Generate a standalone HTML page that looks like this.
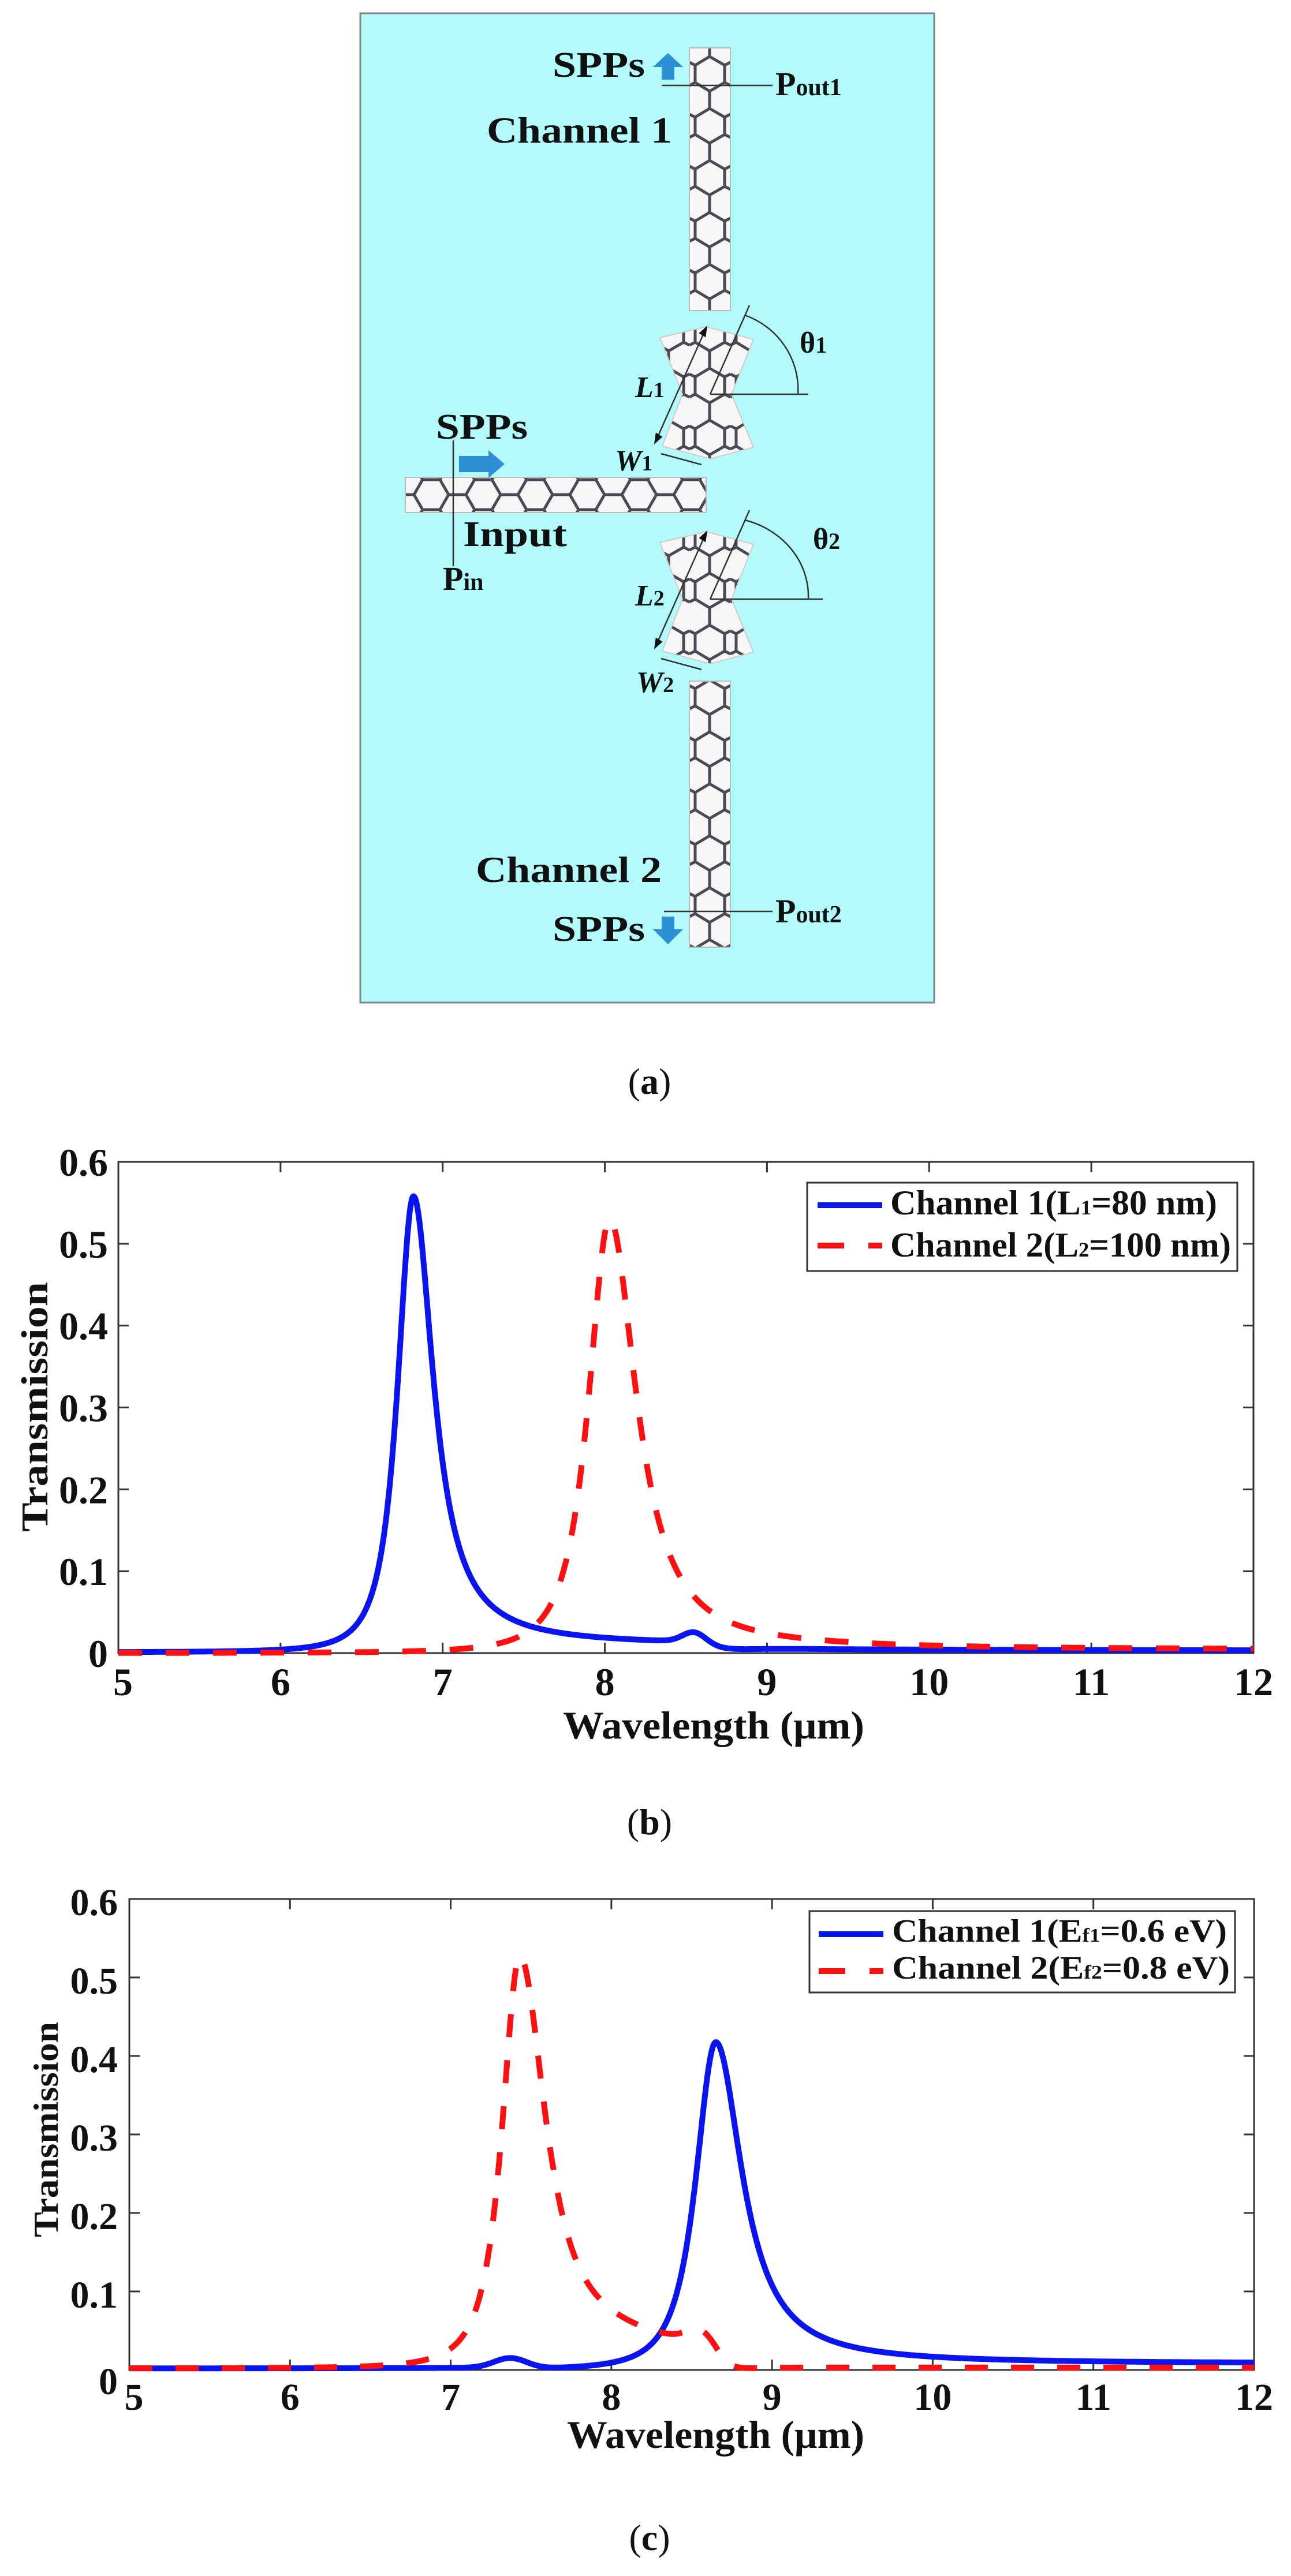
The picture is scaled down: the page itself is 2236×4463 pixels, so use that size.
<!DOCTYPE html>
<html><head><meta charset="utf-8"><style>
html,body{margin:0;padding:0;background:#fff}
svg{display:block}
text{font-family:"Liberation Serif",serif;font-weight:bold;fill:#111}
</style></head><body>
<svg id="s" xmlns="http://www.w3.org/2000/svg" width="2236" height="4463" viewBox="0 0 2236 4463">
<defs>
<pattern id="hh" patternUnits="userSpaceOnUse" width="90" height="52" x="702" y="831">
<rect width="90" height="52" fill="#f6f6f6"/>
<path d="M30,0 L60,0 L75,26 L60,52 L30,52 L15,26 Z M0,26 L15,26 M75,26 L90,26" fill="none" stroke="#4a4a55" stroke-width="5"/>
</pattern>
<pattern id="hv" patternUnits="userSpaceOnUse" width="71" height="90" x="1194" y="83">
<rect width="71" height="90" fill="#f6f6f6"/>
<path d="M10,30 L10,60 L35,75 L61,60 L61,30 L35,15 Z M35,0 L35,15 M35,75 L35,90 M0,25 L10,30 M0,65 L10,60 M71,25 L61,30 M71,65 L61,60" fill="none" stroke="#4a4a55" stroke-width="5"/>
</pattern>
<clipPath id="cb"><rect x="205" y="2005" width="1966" height="870"/></clipPath>
<clipPath id="cc"><rect x="224" y="3282" width="1948" height="835"/></clipPath>
</defs>
<rect width="2236" height="4463" fill="#fff"/>

<!-- Panel (a) -->
<rect x="624" y="23" width="994" height="1714" fill="#b3fafa" stroke="#7a8a8a" stroke-width="3"/>
<rect x="1194" y="83" width="71" height="455" fill="url(#hv)" stroke="#bbb" stroke-width="2"/>
<rect x="1194" y="1180" width="71" height="461" fill="url(#hv)" stroke="#bbb" stroke-width="2"/>
<rect x="702" y="827" width="521" height="61" fill="url(#hh)" stroke="#bbb" stroke-width="2"/>
<g id="bt">
<path d="M1143,585 L1223,566 L1305,588 L1267,683 L1305,775 L1230,795 L1147,773 L1182,683 Z" fill="url(#hv)" stroke="#ccc" stroke-width="2"/>
<line x1="1230" y1="683" x2="1400" y2="683" stroke="#333" stroke-width="2.5"/>
<line x1="1230" y1="683" x2="1298" y2="529" stroke="#333" stroke-width="2.5"/>
<line x1="1135" y1="766" x2="1223" y2="568" stroke="#333" stroke-width="2.5"/>
<path d="M1135,766 l2,-14 l8,5 Z M1223,568 l-2,14 l-8,-5 Z" fill="#111" stroke="#111" stroke-width="3"/>
<line x1="1145" y1="786" x2="1215" y2="805" stroke="#333" stroke-width="2.5"/>
</g>
<path d="M1290,546 A140,137 0 0 1 1382,683" fill="none" stroke="#333" stroke-width="2.5"/>
<use href="#bt" transform="translate(0,355)"/>
<path d="M1290,901 A150,137 0 0 1 1400,1038" fill="none" stroke="#333" stroke-width="2.5"/>
<line x1="1400" y1="1038" x2="1425" y2="1038" stroke="#333" stroke-width="2.5"/>

<text x="957" y="133" font-size="62" textLength="160" lengthAdjust="spacingAndGlyphs">SPPs</text>
<path d="M1157,92 L1183,116 L1168,116 L1168,138 L1146,138 L1146,116 L1131,116 Z" fill="#2f8fd4"/>
<line x1="1146" y1="148" x2="1338" y2="148" stroke="#333" stroke-width="2.5"/>
<text x="1343" y="165" font-size="58">P<tspan font-size="42">out1</tspan></text>
<text x="843" y="247" font-size="64" textLength="321" lengthAdjust="spacingAndGlyphs">Channel 1</text>
<text x="1385" y="611" font-size="52">θ<tspan font-size="40">1</tspan></text>
<text x="1100" y="688" font-size="52" font-style="italic">L<tspan font-size="38" font-style="normal">1</tspan></text>
<text x="1065" y="815" font-size="52" font-style="italic">W<tspan font-size="38" font-style="normal">1</tspan></text>
<text x="1408" y="951" font-size="52">θ<tspan font-size="40">2</tspan></text>
<text x="1100" y="1049" font-size="52" font-style="italic">L<tspan font-size="38" font-style="normal">2</tspan></text>
<text x="1102" y="1199" font-size="52" font-style="italic">W<tspan font-size="38" font-style="normal">2</tspan></text>
<text x="755" y="760" font-size="62" textLength="159" lengthAdjust="spacingAndGlyphs">SPPs</text>
<path d="M795,790 L846,790 L846,780 L874,804 L846,828 L846,818 L795,818 Z" fill="#2f8fd4"/>
<line x1="785" y1="763" x2="785" y2="981" stroke="#333" stroke-width="2.5"/>
<text x="802" y="946" font-size="62" textLength="180" lengthAdjust="spacingAndGlyphs">Input</text>
<text x="767" y="1022" font-size="58">P<tspan font-size="42">in</tspan></text>
<text x="824" y="1528" font-size="64" textLength="322" lengthAdjust="spacingAndGlyphs">Channel 2</text>
<line x1="1150" y1="1579" x2="1338" y2="1579" stroke="#333" stroke-width="2.5"/>
<text x="1343" y="1598" font-size="58">P<tspan font-size="42">out2</tspan></text>
<text x="957" y="1630" font-size="62" textLength="160" lengthAdjust="spacingAndGlyphs">SPPs</text>
<path d="M1146,1588 L1168,1588 L1168,1610 L1183,1610 L1157,1636 L1131,1610 L1146,1610 Z" fill="#2f8fd4"/>
<text x="1125" y="1895" font-size="64" text-anchor="middle" style="font-weight:normal">(<tspan font-weight="bold">a</tspan>)</text>

<!-- Chart b -->
<g id="axb" stroke="#333" stroke-width="3" fill="none"><rect x="205" y="2013" width="1966" height="851"/></g>
<g id="tkb" stroke="#333" stroke-width="3"></g>
<g id="lb" font-size="68"></g>
<g clip-path="url(#cb)">
<path id="b1" fill="none" stroke="#0a14f0" stroke-width="10" stroke-linejoin="round"/>
<path id="b2" fill="none" stroke="#ff1010" stroke-width="10" stroke-dasharray="41 41"/>
</g>
<rect x="1398" y="2049" width="745" height="153" fill="#fff" stroke="#333" stroke-width="3"/>
<line x1="1416" y1="2088" x2="1528" y2="2088" stroke="#0a14f0" stroke-width="10"/>
<line x1="1416" y1="2158" x2="1462" y2="2158" stroke="#ff1010" stroke-width="10"/>
<line x1="1504" y1="2158" x2="1528" y2="2158" stroke="#ff1010" stroke-width="10"/>
<text x="1542" y="2104" font-size="60" textLength="566" lengthAdjust="spacingAndGlyphs">Channel 1(L<tspan font-size="36">1</tspan>=80 nm)</text>
<text x="1542" y="2177" font-size="60" textLength="590" lengthAdjust="spacingAndGlyphs">Channel 2(L<tspan font-size="36">2</tspan>=100 nm)</text>
<text x="975" y="3012" font-size="68" textLength="522" lengthAdjust="spacingAndGlyphs">Wavelength (μm)</text>
<text transform="translate(82,2654) rotate(-90)" font-size="66" textLength="433" lengthAdjust="spacingAndGlyphs">Transmission</text>
<text x="1125" y="3178" font-size="64" text-anchor="middle" style="font-weight:normal">(<tspan font-weight="bold">b</tspan>)</text>

<!-- Chart c -->
<rect x="224" y="3290" width="1948" height="816" fill="none" stroke="#333" stroke-width="3"/>
<g id="tkc" stroke="#333" stroke-width="3"></g>
<g id="lc" font-size="66"></g>
<g clip-path="url(#cc)">
<path id="c1" fill="none" stroke="#0a14f0" stroke-width="10" stroke-linejoin="round"/>
<path id="c2" fill="none" stroke="#ff1010" stroke-width="10" stroke-dasharray="40 40"/>
</g>
<rect x="1402" y="3311" width="737" height="141" fill="#fff" stroke="#333" stroke-width="3"/>
<line x1="1418" y1="3351" x2="1530" y2="3351" stroke="#0a14f0" stroke-width="10"/>
<line x1="1418" y1="3415" x2="1464" y2="3415" stroke="#ff1010" stroke-width="10"/>
<line x1="1506" y1="3415" x2="1530" y2="3415" stroke="#ff1010" stroke-width="10"/>
<text x="1545" y="3364" font-size="56" textLength="580" lengthAdjust="spacingAndGlyphs">Channel 1(E<tspan font-size="34">f1</tspan>=0.6 eV)</text>
<text x="1545" y="3428" font-size="56" textLength="585" lengthAdjust="spacingAndGlyphs">Channel 2(E<tspan font-size="34">f2</tspan>=0.8 eV)</text>
<text x="982" y="4241" font-size="68" textLength="515" lengthAdjust="spacingAndGlyphs">Wavelength (μm)</text>
<text transform="translate(100,3876) rotate(-90)" font-size="60" textLength="373" lengthAdjust="spacingAndGlyphs">Transmission</text>
<text x="1125" y="4418" font-size="64" text-anchor="middle" style="font-weight:normal">(<tspan font-weight="bold">c</tspan>)</text>
</svg>
<script>
(function(){
var NS="http://www.w3.org/2000/svg";
function el(p,t,a,txt){var e=document.createElementNS(NS,t);for(var k in a)e.setAttribute(k,a[k]);if(txt!=null)e.textContent=txt;document.getElementById(p).appendChild(e);}
function axes(tk,lb,L,R,T,B,ylx,ybo,xby){
 var ux=(R-L)/7,uy=(B-T)/6;
 for(var i=0;i<=7;i++){var x=L+i*ux;
  if(i>0&&i<7){el(tk,"line",{x1:x,y1:B,x2:x,y2:B-18});el(tk,"line",{x1:x,y1:T,x2:x,y2:T+18});}
  el(lb,"text",{x:x+(i==0?8:0),y:xby,"text-anchor":"middle"},String(5+i));}
 for(var j=0;j<=6;j++){var y=B-j*uy;
  if(j>0&&j<6){el(tk,"line",{x1:L,y1:y,x2:L+18,y2:y});el(tk,"line",{x1:R,y1:y,x2:R-18,y2:y});}
  el(lb,"text",{x:ylx,y:y+ybo+(j==0?(ylx>195?14:0):0),"text-anchor":"end"},j==0?"0":"0."+j);}
}
axes("tkb","lb",205,2171,2013,2864,187,24,2937);
axes("tkc","lc",224,2172,3290,4106,204,28,4175);
function lor(x,x0,A,g){return A*g*g/((x-x0)*(x-x0)+g*g);}
function lorL(x,x0,A,g,p){var u=(x-x0)/g;return A/Math.pow(1+u*u,p);}
function sig(z){return 1/(1+Math.exp(-z));}
function gs(x,x0,A,s){var u=(x-x0)/s;return A*Math.exp(-u*u/2);}
function bb(x){var m=x<6.82?lorL(x,6.82,0.555,0.15,1.5):lor(x,6.82,0.555,0.15);
 return m+(0.009*sig((x-7.0)/0.15)+gs(x,8.55,0.012,0.07))*(1-sig((x-8.68)/0.04))+0.001+0.002*sig((x-8.9)/0.1);}
function br(x){return x<8.03?lorL(x,8.03,0.53,0.2,1.5):lor(x,8.03,0.53,0.2)+0.004*sig((x-8.8)/0.2);}
function cb(x){var m=x<8.65?lorL(x,8.65,0.415,0.19,1.5):lor(x,8.65,0.415,0.2);
 return m+0.008*sig((x-8.8)/0.2)+gs(x,7.37,0.012,0.1)+0.002*(1-sig((x-7.5)/0.05));}
function cr(x){var cut=1-sig((x-8.68)/0.04);
 if(x<7.43)return lorL(x,7.43,0.525,0.168,1.5)+0.002;
 return (lor(x,7.43,0.525,0.2)+0.02*sig((x-7.8)/0.1)+gs(x,8.55,0.015,0.08))*cut+0.003*sig((x-8.8)/0.1)+0.002*cut;}
function path(id,f,L,R,B,sy){var ux=(R-L)/7,d="";
 for(var x=5;x<=12.0001;x+=0.004){var X=L+(x-5)*ux,Y=B-f(x)*sy;d+=(d?"L":"M")+X.toFixed(1)+","+Y.toFixed(1);}
 document.getElementById(id).setAttribute("d",d);}
path("b1",bb,205,2171,2864,1418.3);path("b2",br,205,2171,2864,1418.3);
path("c1",cb,224,2172,4106,1360);path("c2",cr,224,2172,4106,1360);
})();
</script>
</body></html>
